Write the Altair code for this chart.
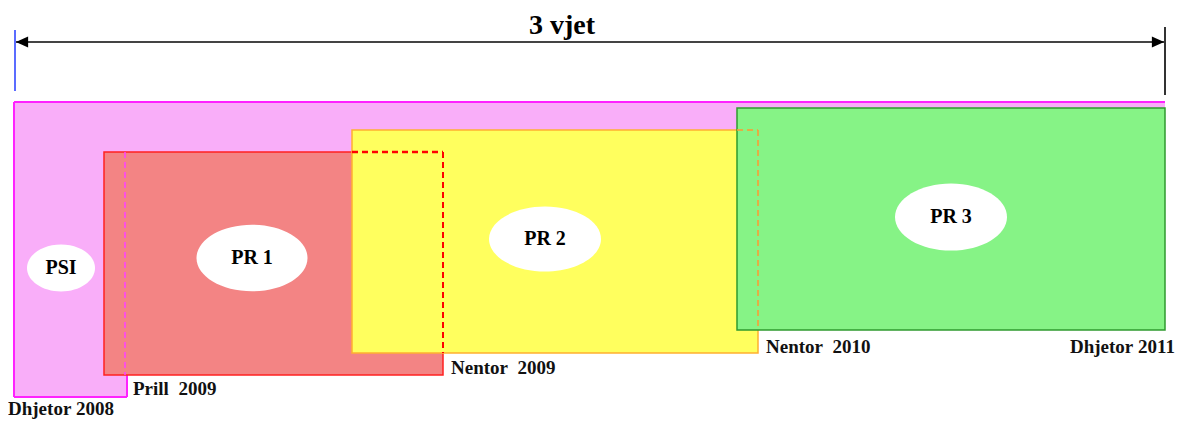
import altair as alt
import pandas as pd

# ---- data (diagram units follow the picture's horizontal/vertical layout) ----
block_names = ["PSI band", "PSI column", "PR 1", "PR 2", "PR 3"]
block_x0 = [14, 14, 104, 352, 737]
block_x1 = [1165, 127, 443, 758, 1165]
block_y0 = [102, 102, 152, 130, 108]
block_y1 = [152, 397, 375, 353, 330]
block_fill = ["#f9aef9", "#f9aef9", "#f38484", "#ffff5e", "#86f386"]
block_stroke = ["#f9aef9", "#f9aef9", "#ff2020", "#ffb030", "#2f9a2f"]

# outline segments: (x, x2, y, y2, colour, dashed)
seg_x = [14, 14, 14, 127, 125, 352, 443, 737, 758]
seg_x2 = [1165, 14, 127, 127, 125, 443, 443, 758, 758]
seg_y = [102, 102, 397, 375, 152, 152, 152, 130, 130]
seg_y2 = [102, 397, 397, 397, 375, 152, 353, 130, 330]
seg_color = ["#ff22ff", "#ff22ff", "#ff22ff", "#ff22ff", "#ff40ff",
             "#ff0000", "#ff0000", "#ff9a30", "#ff9a30"]
seg_dash = ["solid", "solid", "solid", "solid", "dash", "dash", "dash", "dash", "dash"]
seg_width = [2, 2, 2, 2, 1.5, 2.5, 2, 1.5, 1.5]

ell_labels = ["PSI", "PR 1", "PR 2", "PR 3"]
ell_x = [61, 252, 545, 951]
ell_y = [268, 258, 239, 217]
ell_w = [68, 111, 112, 112]
ell_ratio = [0.69, 0.6, 0.58, 0.6]

date_labels = ["Dhjetor\u00a02008", "Prill\u00a0\u00a02009", "Nentor\u00a0\u00a02009",
               "Nentor\u00a0\u00a02010", "Dhjetor\u00a02011"]
date_x = [8, 133, 451, 766, 1175]
date_y = [415, 395, 374, 353, 353]
date_side = ["left", "left", "left", "left", "right"]

title_text = "3 vjet"
span_start, span_end, span_y = 15, 1165, 42

# ---- tables ----
blocks = pd.DataFrame(dict(name=block_names, x0=block_x0, x1=block_x1, y0=block_y0,
                           y1=block_y1, fill=block_fill, stroke=block_stroke))
segs = pd.DataFrame(dict(x=seg_x, x2=seg_x2, y=seg_y, y2=seg_y2, color=seg_color,
                         dash=seg_dash, w=seg_width))
ells = pd.DataFrame(dict(label=ell_labels, x=ell_x, y=ell_y,
                         size=[w * w for w in ell_w],
                         shape=[f"M-1,0A1,{r} 0 1,0 1,0A1,{r} 0 1,0 -1,0Z" for r in ell_ratio]))
dates = pd.DataFrame(dict(label=date_labels, x=date_x, y=date_y, side=date_side))

xs = alt.Scale(domain=[8, 1175], range=[0, 1167], nice=False, zero=False)
ys = alt.Scale(domain=[8, 420], reverse=True, nice=False, zero=False)
X = lambda f: alt.X(f, scale=xs, axis=None)
Y = lambda f: alt.Y(f, scale=ys, axis=None)

layers = []
order = [["PSI band", "PSI column"], ["PR 1"], ["PR 2"], ["PR 3"]]
seg_groups = [[0, 1, 2, 3], [4], [5, 6], [7, 8]]
for names, sidx in zip(order, seg_groups):
    d = blocks[blocks["name"].isin(names)]
    stroke_on = names[0] != "PSI band"
    rect = alt.Chart(d).mark_rect(strokeWidth=1.5 if stroke_on else 0).encode(
        x=X("x0:Q"), x2="x1:Q", y=Y("y0:Q"), y2="y1:Q",
        fill=alt.Fill("fill:N", scale=None),
        stroke=alt.Stroke("stroke:N", scale=None),
    )
    layers.append(rect)
    sd = segs.iloc[sidx]
    for dash in ["solid", "dash"]:
        part = sd[sd["dash"] == dash]
        if len(part):
            layers.append(alt.Chart(part).mark_rule(
                strokeDash=[6, 4] if dash == "dash" else [1, 0]).encode(
                x=X("x:Q"), x2="x2:Q", y=Y("y:Q"), y2="y2:Q",
                color=alt.Color("color:N", scale=None),
                strokeWidth=alt.StrokeWidth("w:Q", scale=None)))

# ellipses with labels
layers.append(alt.Chart(ells).mark_point(filled=True, opacity=1, strokeWidth=0).encode(
    x=X("x:Q"), y=Y("y:Q"),
    shape=alt.Shape("shape:N", scale=None),
    size=alt.Size("size:Q", scale=None),
    color=alt.value("white")))
layers.append(alt.Chart(ells).mark_text(font="Liberation Serif", fontSize=20,
                                         fontWeight="bold", color="black").encode(
    x=X("x:Q"), y=Y("y:Q"), text="label:N"))

# date labels
for al in ["left", "right"]:
    layers.append(alt.Chart(dates[dates["side"] == al]).mark_text(
        font="Liberation Serif", fontSize=19, fontWeight="bold", color="#111",
        align=al, baseline="alphabetic").encode(x=X("x:Q"), y=Y("y:Q"), text="label:N"))

# span arrow
span = pd.DataFrame(dict(x=[span_start], x2=[span_end], y=[span_y]))
layers.append(alt.Chart(span).mark_rule(color="#444", strokeWidth=2).encode(
    x=X("x:Q"), x2="x2:Q", y=Y("y:Q")))
heads = pd.DataFrame(dict(x=[span_start + 7, span_end - 7], y=[span_y, span_y],
                          shape=["M-1,0L1,-0.9L1,0.9Z", "M1,0L-1,-0.9L-1,0.9Z"]))
layers.append(alt.Chart(heads).mark_point(filled=True, opacity=1, color="black").encode(
    x=X("x:Q"), y=Y("y:Q"), shape=alt.Shape("shape:N", scale=None), size=alt.value(150)))
ends = pd.DataFrame(dict(x=[span_start, span_end], y=[30, 27], y2=[91, 95],
                         color=["#5b6cff", "#333333"]))
layers.append(alt.Chart(ends).mark_rule(strokeWidth=2).encode(
    x=X("x:Q"), y=Y("y:Q"), y2="y2:Q", color=alt.Color("color:N", scale=None)))
ttl = pd.DataFrame(dict(x=[562], y=[34], label=[title_text]))
layers.append(alt.Chart(ttl).mark_text(font="Liberation Serif", fontSize=28,
                                       fontWeight="bold", color="black",
                                       baseline="alphabetic").encode(
    x=X("x:Q"), y=Y("y:Q"), text="label:N"))

chart = alt.layer(*layers).properties(
    width=1167, height=412, padding=0, autosize=alt.AutoSizeParams(type="none")
).configure_view(stroke=None)

chart.save("out.html", embed_options={"renderer": "svg", "actions": False})
